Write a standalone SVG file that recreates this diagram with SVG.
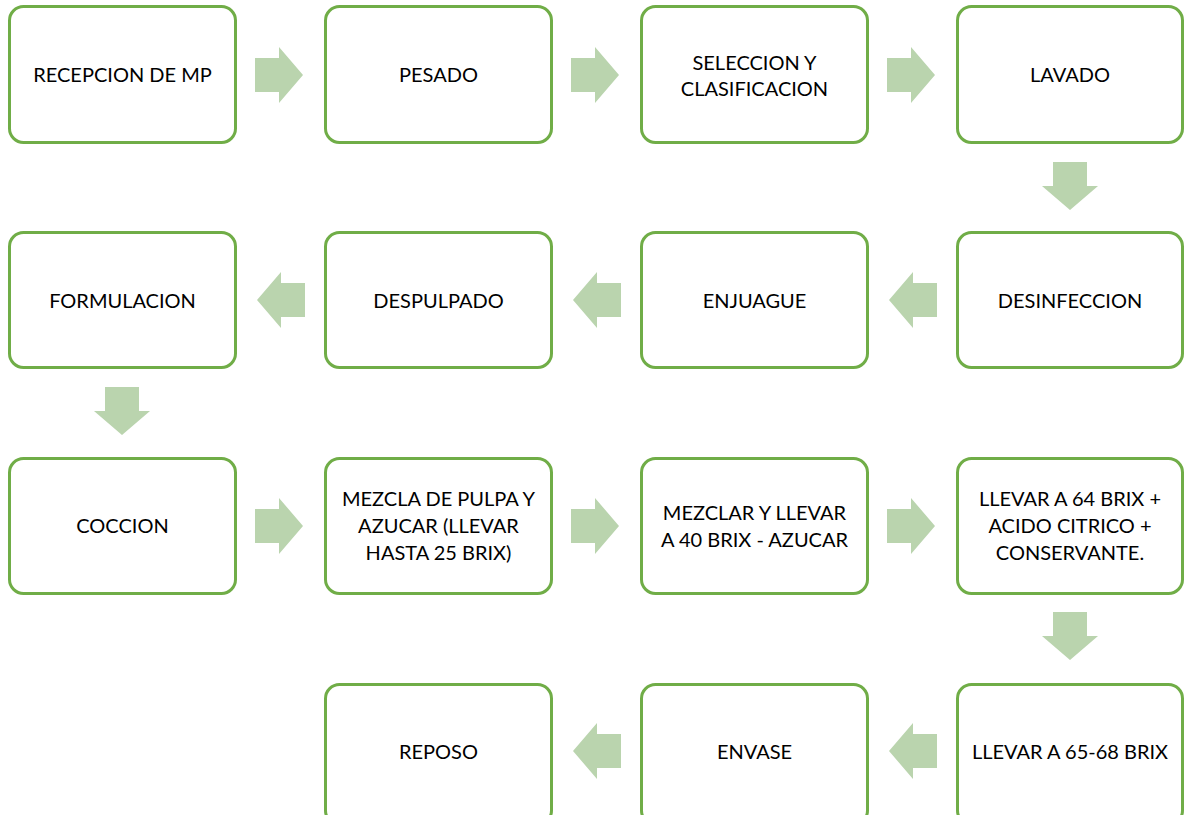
<svg xmlns="http://www.w3.org/2000/svg" width="1184" height="815" viewBox="0 0 1184 815">
<style>
.box{fill:#fff;stroke:#70AD47;stroke-width:3}
.arr{fill:#BAD4AE}
text{font-family:Lato,"Liberation Sans",sans-serif;font-size:20px;fill:#000;text-anchor:middle;dominant-baseline:central}
</style>
<defs>
<path id="ar" d="M0,-17 H24 V-28 L48,0 L24,28 V17 H0 Z"/>
<path id="al" d="M48,-17 H24 V-28 L0,0 L24,28 V17 H48 Z"/>
<path id="ad" d="M-17,0 V24 H-28 L0,48 L28,24 H17 V0 Z"/>
</defs>
<rect width="1184" height="815" fill="#fff"/>
<g id="connectors">
<use href="#ar" class="arr" x="255" y="75"/>
<use href="#ar" class="arr" x="571" y="75"/>
<use href="#ar" class="arr" x="887" y="75"/>
<use href="#ad" class="arr" x="1070" y="162"/>
<use href="#al" class="arr" x="889" y="300"/>
<use href="#al" class="arr" x="573" y="300"/>
<use href="#al" class="arr" x="257" y="300"/>
<use href="#ad" class="arr" x="122" y="387"/>
<use href="#ar" class="arr" x="255" y="526"/>
<use href="#ar" class="arr" x="571" y="526"/>
<use href="#ar" class="arr" x="887" y="526"/>
<use href="#ad" class="arr" x="1070" y="612"/>
<use href="#al" class="arr" x="889" y="751"/>
<use href="#al" class="arr" x="573" y="751"/>
</g>
<g id="n1"><rect class="box" x="9.5" y="6.5" width="226" height="136" rx="14"/><text x="122.5" y="74">RECEPCION DE MP</text></g>
<g id="n2"><rect class="box" x="325.5" y="6.5" width="226" height="136" rx="14"/><text x="438.5" y="74">PESADO</text></g>
<g id="n3"><rect class="box" x="641.5" y="6.5" width="226" height="136" rx="14"/><text x="754.5" y="62">SELECCION Y</text><text x="754.5" y="88">CLASIFICACION</text></g>
<g id="n4"><rect class="box" x="957.5" y="6.5" width="225" height="136" rx="14"/><text x="1070" y="74">LAVADO</text></g>
<g id="n5"><rect class="box" x="957.5" y="232.5" width="225" height="135" rx="14"/><text x="1070" y="300">DESINFECCION</text></g>
<g id="n6"><rect class="box" x="641.5" y="232.5" width="226" height="135" rx="14"/><text x="754.5" y="300">ENJUAGUE</text></g>
<g id="n7"><rect class="box" x="325.5" y="232.5" width="226" height="135" rx="14"/><text x="438.5" y="300">DESPULPADO</text></g>
<g id="n8"><rect class="box" x="9.5" y="232.5" width="226" height="135" rx="14"/><text x="122.5" y="300">FORMULACION</text></g>
<g id="n9"><rect class="box" x="9.5" y="458.5" width="226" height="135" rx="14"/><text x="122.5" y="525">COCCION</text></g>
<g id="n10"><rect class="box" x="325.5" y="458.5" width="226" height="135" rx="14"/><text x="438.5" y="498">MEZCLA DE PULPA Y</text><text x="438.5" y="525">AZUCAR (LLEVAR</text><text x="438.5" y="552">HASTA 25 BRIX)</text></g>
<g id="n11"><rect class="box" x="641.5" y="458.5" width="226" height="135" rx="14"/><text x="754.5" y="512">MEZCLAR Y LLEVAR</text><text x="754.5" y="539">A 40 BRIX - AZUCAR</text></g>
<g id="n12"><rect class="box" x="957.5" y="458.5" width="225" height="135" rx="14"/><text x="1070" y="498">LLEVAR A 64 BRIX +</text><text x="1070" y="525">ACIDO CITRICO +</text><text x="1070" y="552">CONSERVANTE.</text></g>
<g id="n13"><rect class="box" x="957.5" y="684.5" width="225" height="140" rx="14"/><text x="1070" y="751">LLEVAR A 65-68 BRIX</text></g>
<g id="n14"><rect class="box" x="641.5" y="684.5" width="226" height="140" rx="14"/><text x="754.5" y="751">ENVASE</text></g>
<g id="n15"><rect class="box" x="325.5" y="684.5" width="226" height="140" rx="14"/><text x="438.5" y="751">REPOSO</text></g>
</svg>
